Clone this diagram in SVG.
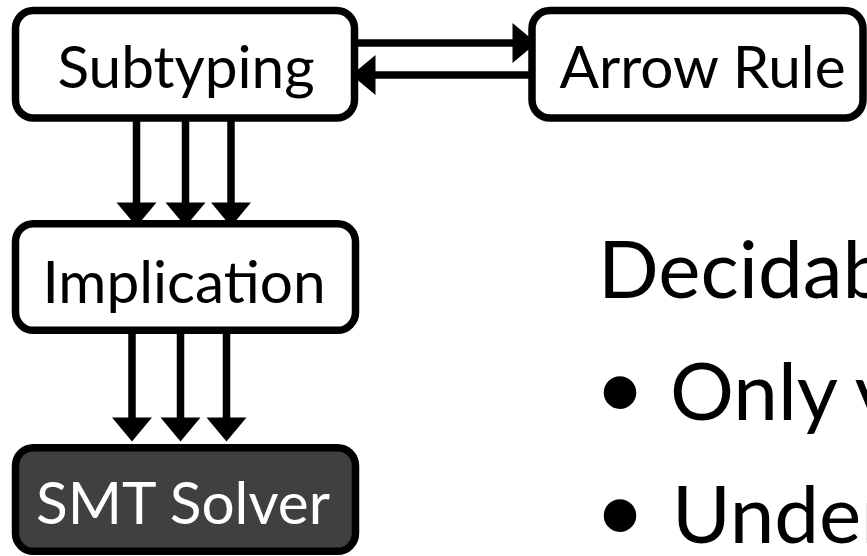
<svg xmlns="http://www.w3.org/2000/svg" width="867" height="556" viewBox="0 0 867 556">
  <defs>
    <marker id="head" markerUnits="userSpaceOnUse" markerWidth="24" markerHeight="40" viewBox="0 -20 24 40" refX="0.5" refY="0" orient="auto" overflow="visible">
      <path d="M0,-20 L24,0 L0,20 Z" fill="#000"/>
    </marker>
    <style>
      .box { fill: #fff; stroke: #000; stroke-width: 7.5; }
      .dark { fill: #404040; stroke: #000; stroke-width: 7.5; }
      .label { font-family: Lato, "Open Sans", sans-serif; font-size: 58.5px; fill: #000; text-anchor: middle; }
      .label.white { fill: #fff; }
      .body { font-family: Lato, "Open Sans", sans-serif; font-size: 80px; fill: #000; }
      .bullet { font-family: "Liberation Sans", Arial, sans-serif; font-size: 120px; fill: #000; }
      .conn { stroke: #000; stroke-width: 7.5; fill: none; marker-end: url(#head); }
    </style>
  </defs>
  <rect width="867" height="556" fill="#fff"/>

  <g id="connectors">
    <line class="conn" x1="355" y1="43" x2="513" y2="43"/>
    <line class="conn" x1="532" y1="75" x2="375" y2="75"/>
    <line class="conn" x1="136.5" y1="118" x2="136.5" y2="203"/>
    <line class="conn" x1="185.5" y1="118" x2="185.5" y2="203"/>
    <line class="conn" x1="231" y1="118" x2="231" y2="203"/>
    <line class="conn" x1="132" y1="330" x2="132" y2="418"/>
    <line class="conn" x1="180.5" y1="330" x2="180.5" y2="418"/>
    <line class="conn" x1="226.5" y1="330" x2="226.5" y2="418"/>
  </g>

  <g id="subtyping">
    <rect class="box" x="15.5" y="10.5" width="339" height="107.5" rx="18"/>
    <text class="label" x="186" y="88">Subtyping</text>
  </g>
  <g id="arrow-rule">
    <rect class="box" x="532" y="10.5" width="331" height="107.5" rx="18"/>
    <text class="label" x="702.5" y="88">Arrow Rule</text>
  </g>
  <g id="implication">
    <rect class="box" x="15.5" y="223.7" width="340" height="106.6" rx="18"/>
    <text class="label" x="184" y="302.5">Implication</text>
  </g>
  <g id="smt-solver">
    <rect class="dark" x="15.5" y="447.7" width="340" height="103.6" rx="18"/>
    <text class="label white" x="183" y="523.5">SMT Solver</text>
  </g>

  <g id="text-block">
    <text class="body" x="598" y="298">Decidab</text>
    <text class="bullet" x="599" y="433">•</text>
    <text class="body" x="670" y="420">Only v</text>
    <text class="bullet" x="599" y="556">•</text>
    <text class="body" x="672" y="543">Under</text>
  </g>
</svg>
